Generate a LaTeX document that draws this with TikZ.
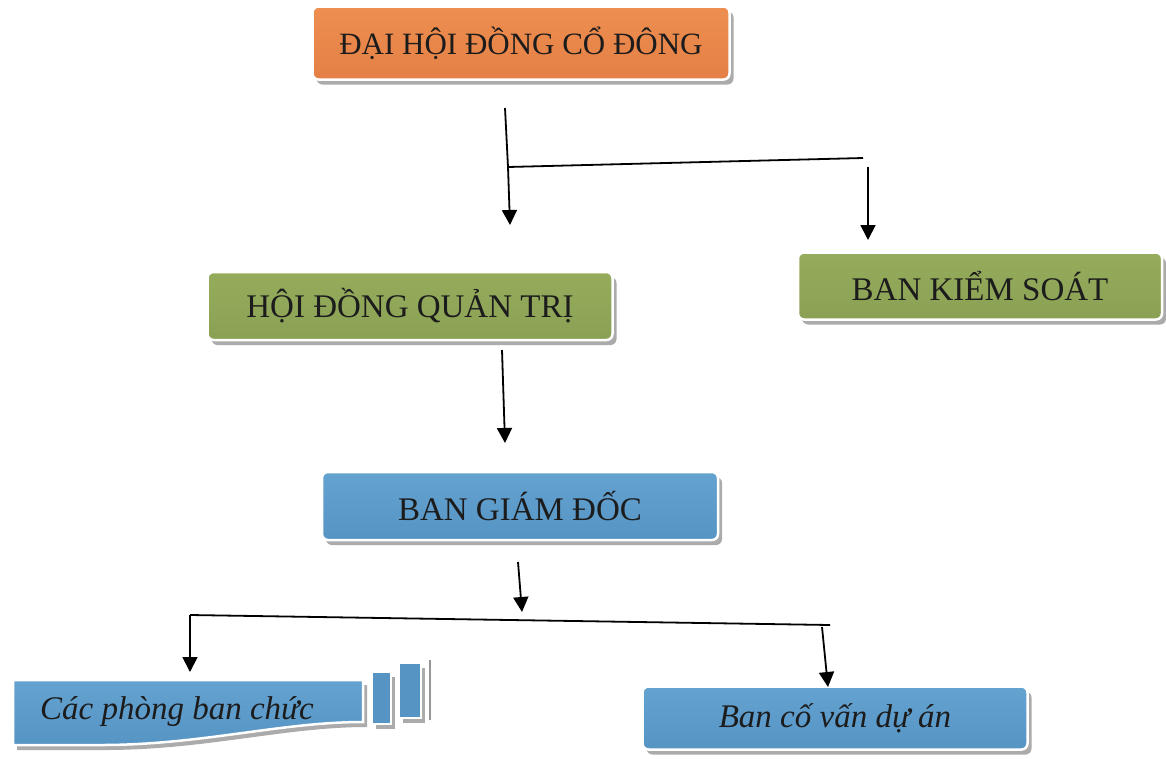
\documentclass[tikz,border=0pt]{standalone}
\usepackage{fontspec}
\setmainfont{Liberation Serif}
\usetikzlibrary{shadows,arrows.meta}
\definecolor{orT}{RGB}{238,142,80}
\definecolor{orB}{RGB}{228,128,70}
\definecolor{grT}{RGB}{150,172,92}
\definecolor{grB}{RGB}{138,160,84}
\definecolor{blT}{RGB}{100,162,208}
\definecolor{blB}{RGB}{86,148,196}
\definecolor{shd}{RGB}{150,150,150}
\definecolor{txt}{RGB}{28,28,28}
\tikzset{
  box/.style={rounded corners=6pt, draw=white, line width=2.5pt, text=txt,
    drop shadow={shadow xshift=4pt, shadow yshift=-5pt, fill=shd, opacity=0.8},
    inner sep=0pt, align=center},
  orbox/.style={box, top color=orT, bottom color=orB},
  grbox/.style={box, top color=grT, bottom color=grB},
  blbox/.style={box, top color=blT, bottom color=blB},
  big/.style={font=\fontsize{33}{38}\selectfont},
  arr/.style={line width=1.8pt, -{Triangle[length=15pt,width=15pt]}},
  plain/.style={line width=1.8pt}
}
\begin{document}
\begin{tikzpicture}[x=1pt,y=-1pt]
\useasboundingbox[fill=white] (0,0) rectangle (1166,758);

% boxes
\node[orbox, minimum width=417pt, minimum height=73pt, font=\fontsize{31}{36}\selectfont] (dh) at (521,43) {ĐẠI HỘI ĐỒNG CỔ ĐÔNG};
\node[grbox, big, minimum width=405pt, minimum height=68pt] (hd) at (410,306) {HỘI ĐỒNG QUẢN TRỊ};
\node[grbox, big, minimum width=364pt, minimum height=67pt] (bks) at (980,286) {BAN KIỂM SOÁT};
\node[blbox, big, minimum width=396pt, minimum height=68pt] (bgd) at (520,506) {BAN GIÁM ĐỐC};
\node[blbox, big, minimum width=385pt, minimum height=63pt] (bcv) at (835,718) {\itshape Ban cố vấn dự án};

% wave shape bottom-left
\fill[shd, opacity=0.8] (17,685) -- (367,685) -- (367,727) .. controls (285,727) and (205,750) .. (105,750) -- (17,750) -- cycle;
\draw[draw=white, line width=2.5pt, top color=blT, bottom color=blB] (13,680) -- (363,680) -- (363,722) .. controls (281,722) and (201,745) .. (101,745) -- (13,745) -- cycle;
\fill[shd, opacity=0.8] (376,677) rectangle (395,729);
\draw[draw=white, line width=2pt, fill=blB] (372,672) rectangle (391,724);
\fill[shd, opacity=0.8] (403,668) rectangle (425,723);
\draw[draw=white, line width=2pt, fill=blB] (399,663) rectangle (421,718);
\draw[shd, line width=1.5pt] (430,660) -- (430,720);
\node[big, text=txt, font=\fontsize{33}{38}\selectfont\itshape] (cpb) at (177,712) {Các phòng ban chức};

% connectors
\coordinate (c1s) at (505,108);
\coordinate (c1b) at (508,167);
\coordinate (c1e) at (510,225);
\coordinate (c2s) at (863,158);
\coordinate (c3s) at (868,167);
\coordinate (c3e) at (868,240);
\draw[arr] (c1s) -- (c1b) -- (c1e);
\draw[plain] (c1b) -- (c2s);
\draw[arr] (c3s) -- (c3e);

\coordinate (c4s) at (502,350);
\coordinate (c4e) at (505,443);
\draw[arr] (c4s) -- (c4e);

\coordinate (c5s) at (518,562);
\coordinate (c5e) at (522,612);
\draw[arr] (c5s) -- (c5e);
\coordinate (hl) at (190,615);
\coordinate (hr) at (830,625);
\draw[plain] (hl) -- (hr);
\coordinate (c6e) at (190,672);
\draw[arr] (hl) -- (c6e);
\coordinate (c7s) at (822,627);
\coordinate (c7e) at (828,687);
\draw[arr] (c7s) -- (c7e);
\end{tikzpicture}
\end{document}
